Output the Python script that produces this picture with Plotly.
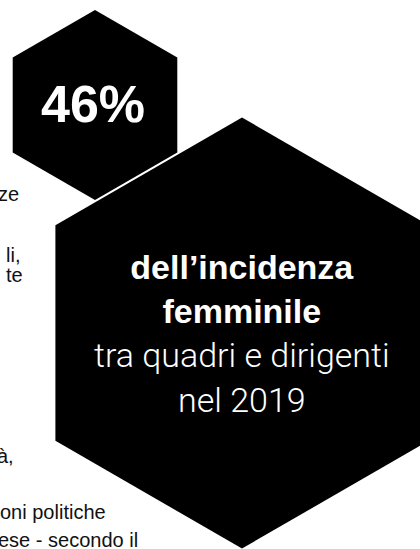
import math
import plotly.graph_objects as go

# ---- content ----
headline_value = 46
headline_unit = "%"
caption_bold = ["dell’incidenza", "femminile"]
caption_regular = ["tra quadri e dirigenti", "nel 2019"]
side_fragments = ["ze", "li,", "te", "à,", "oni politiche", "ese - secondo il"]
side_baselines = [201, 262, 282, 463, 519, 547]

W, H = 420, 549
FONT = "Liberation Sans, Arial, sans-serif"
LIGHT = "Roboto, Liberation Sans, sans-serif"


def hexagon_path(cx, cy, r):
    pts = []
    for k in range(6):
        a = math.radians(90 - 60 * k)
        pts.append((cx + r * math.cos(a), cy - r * math.sin(a)))
    return "M " + " L ".join(f"{x:.1f},{y:.1f}" for x, y in pts) + " Z"


fig = go.Figure()
fig.add_trace(go.Scatter(x=[0, W], y=[0, H], mode="markers",
                         marker=dict(opacity=0), hoverinfo="skip", showlegend=False))

shapes = [
    dict(type="path", path=hexagon_path(95, 105, 95), xref="x", yref="y",
         fillcolor="#000000", line=dict(width=0), layer="below"),
    dict(type="path", path=hexagon_path(242, 333, 215.5), xref="x", yref="y",
         fillcolor="#000000", line=dict(width=0), layer="below"),
]

annotations = []
# headline number
annotations.append(dict(x=93, y=122 - 0.35 * 52, xref="x", yref="y",
                        text=f"<b>{headline_value}{headline_unit}</b>", showarrow=False,
                        xanchor="center", yanchor="middle",
                        font=dict(family=FONT, size=52, color="white")))
# caption block
lines = [f"<b>{t}</b>" for t in caption_bold] + [
    f"<span style='font-family:{LIGHT};font-weight:300'>{t}</span>" for t in caption_regular]
annotations.append(dict(x=242, y=334, xref="x", yref="y", text="<br>".join(lines),
                        showarrow=False, xanchor="center", yanchor="middle",
                        align="center",
                        font=dict(family=FONT, size=34, color="white")))
# cut-off body text fragments on the left
side_right = [21, 22, 25, 16, 108, 140]
for txt, base, xr in zip(side_fragments, side_baselines, side_right):
    annotations.append(dict(x=xr, y=base - 0.35 * 20, xref="x", yref="y", text=txt,
                            showarrow=False, xanchor="right", yanchor="middle",
                            font=dict(family=FONT, size=20, color="#111111")))

fig.update_layout(
    width=W, height=H,
    margin=dict(l=0, r=0, t=0, b=0),
    paper_bgcolor="white", plot_bgcolor="white",
    xaxis=dict(range=[0, W], visible=False, fixedrange=True),
    yaxis=dict(range=[H, 0], visible=False, fixedrange=True),
    shapes=shapes, annotations=annotations, showlegend=False,
)
fig.write_html("out.html", config={"displayModeBar": False},
               post_script="document.body.style.margin='0';document.body.style.overflow='hidden';")
